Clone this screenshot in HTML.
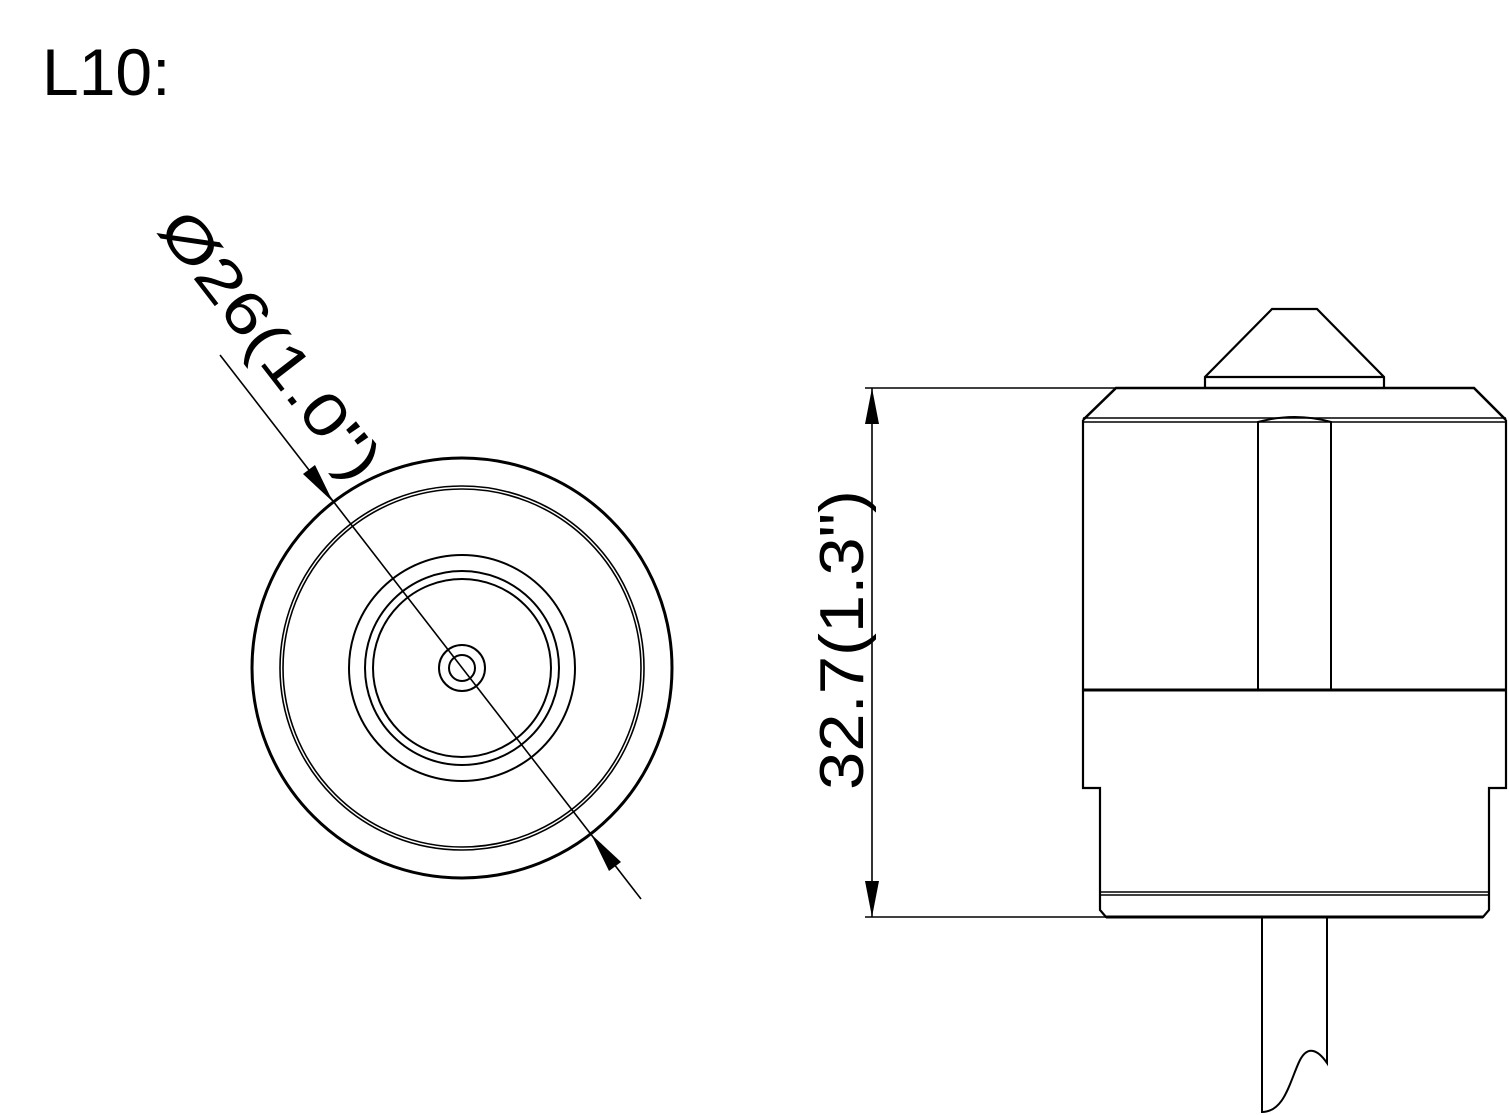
<!DOCTYPE html>
<html><head><meta charset="utf-8"><style>html,body{margin:0;padding:0;background:#fff}</style></head>
<body>
<svg width="1509" height="1115" viewBox="0 0 1509 1115" xmlns="http://www.w3.org/2000/svg" style="display:block">
<g font-family="Liberation Sans, sans-serif" fill="#000">
<text x="42" y="95" font-size="66">L10:</text>
<text transform="translate(156,230) rotate(52.3)" font-size="60" textLength="322" lengthAdjust="spacingAndGlyphs">Ø26(1.0")</text>
<text transform="translate(863,790) rotate(-90)" font-size="62" textLength="300" lengthAdjust="spacingAndGlyphs">32.7(1.3")</text>
</g>
<g fill="none" stroke="#000">
<circle cx="462" cy="668" r="210" stroke-width="3"/>
<circle cx="462" cy="668" r="182" stroke-width="1.6"/>
<circle cx="462" cy="668" r="179" stroke-width="1.6"/>
<circle cx="462" cy="668" r="113" stroke-width="2"/>
<circle cx="462" cy="668" r="97" stroke-width="2"/>
<circle cx="462" cy="668" r="89" stroke-width="2"/>
<circle cx="462" cy="668" r="23" stroke-width="2"/>
<circle cx="462" cy="668" r="13" stroke-width="2"/>
<line x1="220" y1="355" x2="641" y2="899" stroke-width="1.6"/>
<path d="M1205,388 V377 L1272,309 H1317 L1384,377 V388 M1205,377 H1384" stroke-width="2.2"/>
<path d="M1083,420 L1116,388 H1474 L1506,420" stroke-width="2.6"/>
<path d="M1083,418 H1506 M1083,422 H1506" stroke-width="1.6"/>
<path d="M1083,420 V788 H1100 V910 L1106,917 H1483 L1489,910 V788 H1506 V420" stroke-width="2.2"/>
<path d="M1106,917 H1483" stroke-width="3"/>
<path d="M1258,690 V422 Q1295,412 1331,422 V690" stroke-width="2"/>
<path d="M1083,690 H1506" stroke-width="3"/>
<path d="M1100,892 H1489 M1100,895 H1489" stroke-width="1.6"/>
<path d="M1262,917 V1112 C1285,1112 1290,1080 1300,1060 C1308,1045 1318,1050 1327,1063 V917" stroke-width="2"/>
<path d="M865,388 H1116 M865,917 H1106 M872,388 V917" stroke-width="1.6"/>
</g>
<g fill="#000">
<polygon points="872,388 865,424 879,424"/>
<polygon points="872,917 865,881 879,881"/>
<polygon points="333,502 303,474 315,465"/>
<polygon points="591,834 621,862 609,871"/>
</g>
</svg>
</body></html>
